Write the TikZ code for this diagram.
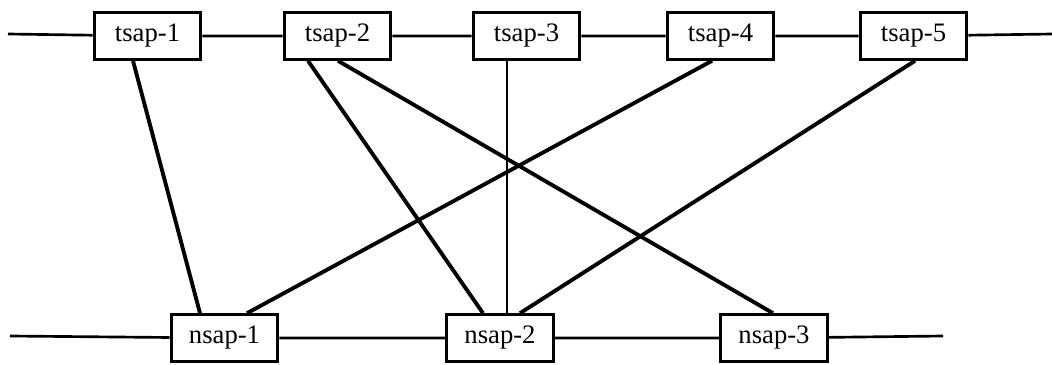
\documentclass[tikz,border=0pt]{standalone}
\usepackage{fontspec}
\setmainfont{Liberation Serif}
\usetikzlibrary{calc}

\begin{document}
\begin{tikzpicture}[x=0.75pt,y=0.75pt,yscale=-1,xscale=1,
    sap/.style={draw,line width=2.2pt,minimum width=80pt,minimum height=35pt,
        inner sep=0pt,font=\fontsize{20}{23}\selectfont},
    bus/.style={line width=2pt},
    link/.style={line width=2.9pt}]

        \useasboundingbox (0,0) rectangle (1052,364);

        % transport level
        \coordinate (tl) at (8,34);
        \coordinate (tr) at (1052,34);
        \node [sap] (t1) at (147.5,36) {tsap-1};
        \node [sap] (t2) at (337.5,36) {tsap-2};
        \node [sap] (t3) at (526.5,36) {tsap-3};
        \node [sap] (t4) at (720.5,36) {tsap-4};
        \node [sap] (t5) at (913.5,36) {tsap-5};

        % network level
        \coordinate (nl) at (10,336);
        \coordinate (nr) at (943,336);
        \node [sap] (n1) at (224.5,338) {nsap-1};
        \node [sap] (n2) at (500,338) {nsap-2};
        \node [sap] (n3) at (774,338) {nsap-3};

        \draw [bus] (tl) -- (t1) -- (t2) -- (t3) -- (t4) -- (t5) -- (tr);
        \draw [bus] (nl) -- (n1) -- (n2) -- (n3) -- (nr);

        \draw [link] ($(t1.south)+(-14.5,0)$) -- ($(n1.north)+(-24.5,0)$);
        \draw [link] ($(t2.south)+(-29.5,0)$) -- ($(n2.north)+(-17,0)$);
        \draw [link] ($(t2.south)+(0.5,0)$) -- ($(n3.north)+(-1,0)$);
        \draw [line width=1.8pt] ($(t3.south)+(-19.5,0)$) -- ($(n2.north)+(7,0)$);
        \draw [link] ($(t4.south)+(-8.5,0)$) -- ($(n1.north)+(22.5,0)$);
        \draw [link] ($(t5.south)+(1.5,0)$) -- ($(n2.north)+(20,0)$);
    \end{tikzpicture}
\end{document}
